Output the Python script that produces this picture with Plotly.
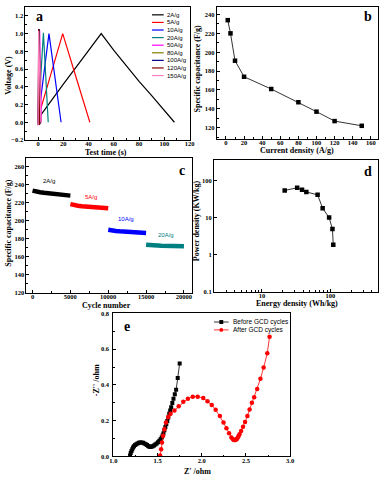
import plotly.graph_objects as go

W, H = 385, 482

# ---------------- data ----------------
# Panel a: GCD curves
a_rates = ['2A/g', '5A/g', '10A/g', '20A/g', '50A/g', '80A/g', '100A/g', '120A/g', '150A/g']
a_colors = ['#000000', '#ff0000', '#0000ff', '#008080', '#ff00ff', '#808000', '#000080', '#800000', '#ff80c0']
a_time = [
    [0.5, 10, 20, 30, 40, 50, 60, 70, 80, 90, 100, 108],
    [0.4, 19.5, 30, 41],
    [0.3, 8.6, 18.2],
    [0.2, 4.2, 8.0],
    [0.1, 1.2, 2.6],
    [0.1, 0.9, 2.0],
    [0.0, 0.7, 1.5],
    [0.0, 0.5, 1.2],
    [0.0, 0.4, 2.2],
]
a_volt = [
    [0.05, 0.24, 0.43, 0.62, 0.81, 1.0, 0.81, 0.63, 0.46, 0.30, 0.14, 0.0],
    [0.07, 1.0, 0.51, 0.0],
    [0.07, 1.0, 0.0],
    [0.05, 1.01, 0.0],
    [0.02, 1.04, 0.0],
    [0.0, 1.05, -0.01],
    [-0.02, 1.05, -0.02],
    [-0.03, 1.05, -0.03],
    [-0.04, 1.03, 0.0],
]

# Panel b: rate capability
b_current = [2, 5, 10, 20, 50, 80, 100, 120, 150]
b_cap = [234, 220, 191, 174, 161, 147, 137, 127, 122]

# Panel c: cycling
c_labels = ['2A/g', '5A/g', '10A/g', '20A/g']
c_colors = ['#000000', '#ff0000', '#0000ff', '#008080']
c_cycles = [
    [0, 250, 500, 1000, 1500, 2000, 2500, 3000, 3500, 4000, 4500, 5000],
    [5000, 5250, 5500, 6000, 6500, 7000, 7500, 8000, 8500, 9000, 9500, 10000],
    [10000, 10250, 10500, 11000, 11500, 12000, 12500, 13000, 13500, 14000, 14500, 15000],
    [15000, 15250, 15500, 16000, 16500, 17000, 17500, 18000, 18500, 19000, 19500, 20000],
]
c_cap = [
    [233.5, 232.8, 232.3, 231.6, 231.0, 230.4, 229.9, 229.4, 229.0, 228.6, 228.2, 227.9],
    [218.5, 217.8, 217.2, 216.6, 216.1, 215.7, 215.3, 215.0, 214.7, 214.4, 214.2, 214.0],
    [190.0, 189.4, 189.0, 188.6, 188.2, 187.9, 187.6, 187.3, 187.0, 186.8, 186.5, 186.3],
    [173.2, 172.9, 172.7, 172.5, 172.4, 172.2, 172.1, 172.0, 171.9, 171.8, 171.7, 171.6],
]
c_label_x = [2200, 7750, 12300, 17600]
c_label_y = [244, 226, 202, 184]

# Panel d: Ragone
d_energy = [21.5, 32.7, 38.5, 44.5, 65, 77, 95.7, 107, 110]
d_power = [54, 63.5, 56, 49, 41, 17.8, 10, 4.9, 1.85]

# Panel e: Nyquist
e_before_re = [1.189, 1.196, 1.205, 1.214, 1.223, 1.233, 1.246, 1.259, 1.273, 1.288, 1.303, 1.318,
               1.335, 1.351, 1.366, 1.381, 1.394, 1.407, 1.418, 1.43, 1.445, 1.46, 1.475, 1.49,
               1.505, 1.52, 1.534, 1.547, 1.557, 1.566, 1.577, 1.588, 1.599, 1.61, 1.621,
               1.632, 1.643, 1.654, 1.667, 1.68, 1.695, 1.71, 1.728, 1.75]
e_before_im = [0.004, 0.018, 0.030, 0.040, 0.049, 0.057, 0.063, 0.068, 0.072, 0.076, 0.078, 0.078,
               0.076, 0.072, 0.068, 0.063, 0.058, 0.054, 0.053, 0.054, 0.057, 0.061, 0.066, 0.072,
               0.079, 0.087, 0.095, 0.105, 0.116, 0.128, 0.146, 0.164, 0.181, 0.198, 0.218,
               0.238, 0.256, 0.275, 0.299, 0.323, 0.348, 0.373, 0.438, 0.52]
e_after_re = [1.529, 1.54, 1.55, 1.562, 1.577, 1.595, 1.621, 1.647, 1.691, 1.739, 1.791, 1.843,
              1.898, 1.954, 2.017, 2.065, 2.113, 2.157, 2.205, 2.246, 2.279, 2.309, 2.335, 2.353,
              2.365, 2.372, 2.38, 2.39, 2.399, 2.408, 2.417, 2.427, 2.445, 2.467, 2.49, 2.516,
              2.541, 2.567, 2.593, 2.627, 2.664, 2.7, 2.741, 2.767]
e_after_im = [0.004, 0.04, 0.078, 0.115, 0.152, 0.189, 0.22, 0.238, 0.257, 0.281, 0.305, 0.323,
              0.334, 0.334, 0.327, 0.309, 0.287, 0.261, 0.226, 0.189, 0.157, 0.129, 0.105, 0.096,
              0.092, 0.091, 0.091, 0.094, 0.099, 0.105, 0.114, 0.124, 0.142, 0.165, 0.192, 0.226,
              0.262, 0.3, 0.331, 0.377, 0.434, 0.497, 0.577, 0.669]
e_names = ['Before GCD cycles', 'After GCD cycles']
e_colors = ['#000000', '#ff0000']

# ---------------- figure ----------------
SERIF = 'Liberation Serif'
SANS = 'Liberation Sans'


def fx(p):
    return p / W


def fy(p):
    return 1 - p / H


fig = go.Figure()

# panel a
for i, name in enumerate(a_rates):
    fig.add_trace(go.Scatter(x=a_time[i], y=a_volt[i], mode='lines', name=name,
                             line=dict(color=a_colors[i], width=1.2), showlegend=False,
                             xaxis='x', yaxis='y'))
# panel b
fig.add_trace(go.Scatter(x=b_current, y=b_cap, mode='lines+markers', showlegend=False,
                         line=dict(color='#000000', width=0.8),
                         marker=dict(symbol='square', size=4.5, color='#000000'),
                         xaxis='x2', yaxis='y2'))
# panel c
for i in range(4):
    fig.add_trace(go.Scatter(x=c_cycles[i], y=c_cap[i], mode='lines', showlegend=False,
                             line=dict(color=c_colors[i], width=4.5),
                             xaxis='x3', yaxis='y3'))
# panel d
fig.add_trace(go.Scatter(x=d_energy, y=d_power, mode='lines+markers', showlegend=False,
                         line=dict(color='#000000', width=0.8),
                         marker=dict(symbol='square', size=4.5, color='#000000'),
                         xaxis='x4', yaxis='y4'))
# panel e
fig.add_trace(go.Scatter(x=e_before_re, y=e_before_im, mode='lines+markers', showlegend=False,
                         line=dict(color=e_colors[0], width=0.8),
                         marker=dict(symbol='square', size=4, color=e_colors[0]),
                         xaxis='x5', yaxis='y5'))
fig.add_trace(go.Scatter(x=e_after_re, y=e_after_im, mode='lines+markers', showlegend=False,
                         line=dict(color=e_colors[1], width=0.8),
                         marker=dict(symbol='circle', size=4.5, color=e_colors[1]),
                         xaxis='x5', yaxis='y5'))

tickfont = dict(family=SERIF, size=6.5, color='#000000', weight='bold')


def axis(dom, rng, anchor, dtick=None, minor=None, fmt=None, typ='linear', tickvals=None,
         ticktext=None, standoff=0):
    d = dict(domain=dom, range=rng, anchor=anchor, type=typ, showgrid=False, zeroline=False,
             showline=True, linecolor='#000000', linewidth=1, mirror=True,
             ticks='inside', ticklen=3, tickwidth=0.8, tickcolor='#000000',
             tickfont=tickfont, fixedrange=True, ticklabelstandoff=standoff)
    if dtick is not None:
        d['dtick'] = dtick
        d['tick0'] = 0
    if fmt:
        d['tickformat'] = fmt
    if tickvals is not None:
        d['tickmode'] = 'array'
        d['tickvals'] = tickvals
        d['ticktext'] = ticktext
    if minor is not None:
        d['minor'] = dict(ticks='inside', ticklen=1.8, tickwidth=0.6, tickcolor='#000000', **minor)
    return d


dom_a = ([fx(22), fx(190)], [fy(138), fy(3)])
dom_b = ([fx(218), fx(383)], [fy(137), fy(3)])
dom_c = ([fx(23), fx(192)], [fy(293), fy(156)])
dom_d = ([fx(215), fx(383)], [fy(292), fy(158)])
dom_e = ([fx(112), fx(293)], [fy(459), fy(314)])

XS = -3
fig.update_layout(
    xaxis=axis(dom_a[0], [-10, 120], 'y', dtick=20, minor=dict(dtick=10), standoff=XS),
    yaxis=axis(dom_a[1], [-0.2, 1.3], 'x', dtick=0.2, minor=dict(dtick=0.1), fmt='.1f'),
    xaxis2=axis(dom_b[0], [-10, 168], 'y2', dtick=20, minor=dict(dtick=10), standoff=XS),
    yaxis2=axis(dom_b[1], [108, 248], 'x2', dtick=20, minor=dict(dtick=10)),
    xaxis3=axis(dom_c[0], [-800, 21000], 'y3', dtick=5000, minor=dict(dtick=2500), fmt='d', standoff=XS),
    yaxis3=axis(dom_c[1], [120, 270], 'x3', dtick=20, minor=dict(dtick=10)),
    xaxis4=axis(dom_d[0], [0.3, 2.695], 'y4', typ='log', tickvals=[10, 100], ticktext=['10', '100'],
                minor=dict(tickvals=[3, 4, 5, 6, 7, 8, 9, 20, 30, 40, 50, 60, 70, 80, 90, 200, 300, 400]),
                standoff=XS),
    yaxis4=axis(dom_d[1], [-1, 2.56], 'x4', typ='log', tickvals=[0.1, 1, 10, 100],
                ticktext=['0.1', '1', '10', '100']),
    xaxis5=axis(dom_e[0], [1.0, 3.0], 'y5', dtick=0.5, minor=dict(dtick=0.25), fmt='.1f', standoff=-2),
    yaxis5=axis(dom_e[1], [0, 0.8], 'x5', dtick=0.2, minor=dict(dtick=0.1), fmt='.1f', standoff=2),
)

fig.update_layout(width=W, height=H, margin=dict(l=0, r=0, t=0, b=0),
                  paper_bgcolor='#ffffff', plot_bgcolor='#ffffff', showlegend=False)

annotations = []
shapes = []


def ann(text, x, y, size=8, angle=0, color='#000000', family=SERIF, bold=True, xanchor='center'):
    annotations.append(dict(text=text, x=fx(x), y=fy(y), xref='paper', yref='paper',
                            showarrow=False, textangle=angle, xanchor=xanchor, yanchor='middle',
                            font=dict(family=family, size=size, color=color,
                                      weight='bold' if bold else 'normal')))


# axis titles
ann('Test time (s)', 104, 150.5)
ann('Voltage (V)', 5, 72, angle=-90)
ann('Current density (A/g)', 300, 149)
ann('Specific capacitance (F/g)', 198, 66, angle=-90)
ann('Cycle number', 105, 305.5)
ann('Specific capacitance (F/g)', 5, 222, angle=-90)
ann('Energy density (Wh/kg)', 300, 304)
ann('Power density (KW/kg)', 197, 220, angle=-90)
ann("Z' /ohm", 198, 474)
ann("-Z'' /ohm", 95, 382, angle=-90)

# panel letters
ann('a', 36, 13, size=14)
ann('b', 373, 13, size=14)
ann('c', 182, 169, size=14)
ann('d', 373, 170, size=14)
ann('e', 126, 327, size=14)

# panel c labels
for i in range(4):
    annotations.append(dict(text=c_labels[i], x=c_label_x[i], y=c_label_y[i], xref='x3', yref='y3',
                            showarrow=False, font=dict(family=SANS, size=6, color=c_colors[i])))

# panel a legend (manual)
for i, name in enumerate(a_rates):
    yy = 11 + i * 7.7
    shapes.append(dict(type='line', xref='paper', yref='paper', x0=fx(151.5), x1=fx(163.5),
                       y0=fy(yy), y1=fy(yy), line=dict(color=a_colors[i], width=1.2)))
    ann(name, 165, yy, size=6, family=SANS, bold=False, xanchor='left')

# panel e legend (manual)
for i, name in enumerate(e_names):
    yy = 322.7 + i * 8
    shapes.append(dict(type='line', xref='paper', yref='paper', x0=fx(215), x1=fx(230),
                       y0=fy(yy), y1=fy(yy), line=dict(color=e_colors[i], width=0.8)))
    shapes.append(dict(type='rect' if i == 0 else 'circle', xref='paper', yref='paper',
                       x0=fx(220.5), x1=fx(224.5), y0=fy(yy + 2), y1=fy(yy - 2),
                       fillcolor=e_colors[i], line=dict(color=e_colors[i], width=0)))
    ann(name, 232.5, yy, size=6.5, family=SANS, bold=False, xanchor='left')

fig.update_layout(annotations=annotations, shapes=shapes)

fig.write_html('out.html')
